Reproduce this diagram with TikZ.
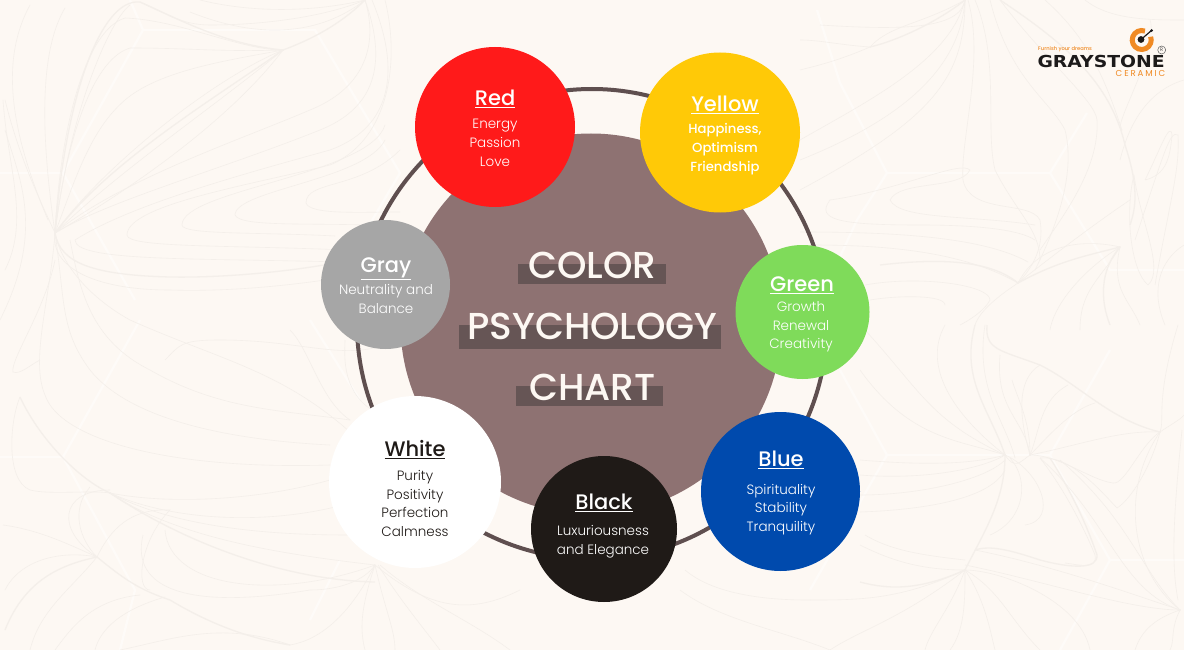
\documentclass[tikz,border=0pt]{standalone}
\usepackage{fontspec}
\setmainfont{Poppins Light}[BoldFont=Poppins Medium]
\newfontfamily\medfont{Poppins Medium}
\newfontfamily\logofont{DejaVu Sans}
\newfontfamily\ceramicfont[LetterSpace=22]{Poppins}
\definecolor{paper}{HTML}{FDF8F3}
\definecolor{vein}{HTML}{F4EFEA}
\definecolor{hexa}{HTML}{FEFBF8}
\definecolor{mauve}{HTML}{8E7272}
\definecolor{barc}{HTML}{665555}
\definecolor{ringc}{HTML}{5F4F4F}
\definecolor{cred}{HTML}{FF1A1A}
\definecolor{cyellow}{HTML}{FFC907}
\definecolor{cgreen}{HTML}{7FDB5A}
\definecolor{cblue}{HTML}{004AAD}
\definecolor{cblack}{HTML}{1F1A17}
\definecolor{cgray}{HTML}{A6A6A6}
\definecolor{logoor}{HTML}{F08A24}
\definecolor{logodk}{HTML}{1C1A1A}
\tikzset{
  vn/.style={draw=vein,line width=0.6pt},
  vt/.style={draw=vein,line width=1.3pt},
  hexline/.style={draw=hexa,line width=2.4pt},
  disc/.style={circle,inner sep=0pt,outer sep=0pt,minimum size=#1},
  ttl/.style={font=\medfont\fontsize{21}{24}\selectfont,text=white,inner sep=0pt},
  body/.style={font=\fontsize{13.5}{18.7}\selectfont,text=white,align=center,inner sep=0pt},
  bodymed/.style={font=\medfont\fontsize{13.2}{18.7}\selectfont,text=white,align=center,inner sep=0pt},
  head/.style={font=\medfont\fontsize{37.5}{40}\selectfont,text=paper,inner sep=0pt,anchor=base},
  bar/.style={fill=barc,draw=none,inner sep=0pt,outer sep=0pt}
}
\newcommand{\ttlu}[1]{\underline{#1}}
\begin{document}
\begin{tikzpicture}[x=1pt,y=-1pt]
\useasboundingbox (0,0) rectangle (1184,650);
\fill[paper] (0,0) rectangle (1184,650);
% hexagon lattice
\draw[hexline] (130,0)--(143,30)--(315,30)--(400,173)--(325,300);
\draw[hexline] (143,30)--(63,173)--(0,173);
\draw[hexline] (63,173)--(135,300);
\draw[hexline] (140,320)--(63,457)--(0,457);
\draw[hexline] (63,457)--(135,590)--(120,650);
\draw[hexline] (310,320)--(360,400);
\draw[hexline] (340,560)--(310,620);
\draw[hexline] (817,10)--(840,83)--(887,173)--(857,220)--(820,300);
\draw[hexline] (887,173)--(1050,173)--(1087,113);
\draw[hexline] (1050,173)--(1110,270)--(1184,270);
\draw[hexline] (840,370)--(887,455)--(1050,455)--(1110,560)--(1184,560);
\draw[hexline] (887,455)--(810,590);
\draw[hexline] (1050,455)--(1110,350);
\draw[hexline] (1110,560)--(1060,650);
% top left veins
\draw[vt] (55,233) .. controls (110,160) and (220,95) .. (283,50) .. controls (310,40) and (340,25) .. (365,0);
\draw[vt] (283,50) .. controls (230,45) and (190,25) .. (140,2) .. controls (100,-2) and (65,100) .. (55,233);
\draw[vn] (55,233) .. controls (120,170) and (210,110) .. (283,50);
\draw[vn] (55,233) .. controls (130,190) and (230,120) .. (283,50);
\draw[vn] (55,233) .. controls (100,170) and (210,80) .. (283,50);
\draw[vn] (55,233) .. controls (70,110) and (110,20) .. (130,5);
\draw[vn] (55,233) .. controls (40,130) and (40,50) .. (65,8);
\draw[vn] (48,220) .. controls (10,130) and (0,60) .. (30,5);
\draw[vn] (55,233) .. controls (60,130) and (85,30) .. (125,18) .. controls (180,20) and (240,50) .. (283,50);
\draw[vn] (283,50) .. controls (220,52) and (190,48) .. (130,48) .. controls (90,60) and (65,150) .. (55,233);
\draw[vn] (283,50) .. controls (230,60) and (160,70) .. (125,100) .. controls (90,130) and (75,180) .. (55,233);
\draw[vn] (365,0) .. controls (330,15) and (270,25) .. (210,25) .. controls (180,25) and (165,12) .. (140,2);
\draw[vn] (365,0) .. controls (320,35) and (260,40) .. (190,12);
\draw[vn] (365,0) .. controls (300,15) and (240,10) .. (200,0);
\draw[vn] (365,0) .. controls (380,50) and (360,90) .. (310,110) .. controls (240,140) and (120,180) .. (55,233);
\draw[vn] (365,0) .. controls (390,70) and (370,110) .. (320,130) .. controls (220,170) and (110,200) .. (55,233);
\draw[vn] (372,0) .. controls (405,80) and (385,130) .. (330,150) .. controls (240,175) and (130,205) .. (75,240) .. controls (75,262) and (200,258) .. (340,262);
\draw[vn] (385,0) .. controls (400,60) and (390,140) .. (330,165) .. controls (250,185) and (127,205) .. (127,235) .. controls (127,248) and (230,245) .. (345,250);
\draw[vn] (385,125) .. controls (370,175) and (182,190) .. (182,225) .. controls (182,235) and (260,232) .. (335,236);
\draw[vn] (385,140) .. controls (365,180) and (235,190) .. (235,215) .. controls (240,228) and (320,222) .. (390,226);
\draw[vn] (400,150) .. controls (360,190) and (306,180) .. (306,203) .. controls (310,215) and (360,212) .. (400,212);
\draw[vt] (55,233) .. controls (60,262) and (90,275) .. (170,277) .. controls (220,278) and (290,272) .. (340,262);
\draw[vn] (55,233) .. controls (50,265) and (90,290) .. (170,290) .. controls (230,292) and (290,285) .. (325,280);
\draw[vn] (5,100) .. controls (20,160) and (40,200) .. (55,233);
\draw[vn] (3,100) .. controls (8,170) and (30,220) .. (5,270);
\draw[vn] (5,130) .. controls (20,180) and (45,230) .. (0,320);
% left lower veins
\draw[vn] (55,233) .. controls (60,260) and (85,295) .. (130,320) .. controls (220,360) and (280,370) .. (350,432);
\draw[vn] (55,233) .. controls (65,300) and (60,330) .. (90,370) .. controls (130,420) and (230,440) .. (330,445);
\draw[vn] (55,233) .. controls (50,300) and (30,360) .. (45,395) .. controls (60,440) and (170,470) .. (330,465);
\draw[vn] (70,240) .. controls (80,290) and (90,340) .. (150,370) .. controls (220,410) and (280,410) .. (350,420);
\draw[vn] (55,260) .. controls (45,310) and (10,360) .. (13,372) .. controls (20,375) and (30,365) .. (40,360);
\draw[vt] (20,397) .. controls (40,440) and (80,480) .. (110,493) .. controls (180,540) and (280,580) .. (375,582);
\draw[vn] (20,397) .. controls (10,420) and (5,480) .. (30,490) .. controls (50,495) and (90,490) .. (110,493);
\draw[vn] (110,493) .. controls (170,505) and (260,500) .. (330,480);
\draw[vn] (110,493) .. controls (170,520) and (260,525) .. (335,507);
\draw[vn] (110,493) .. controls (180,530) and (280,535) .. (350,535);
\draw[vn] (110,493) .. controls (180,540) and (290,555) .. (375,565);
\draw[vn] (110,490) .. controls (60,490) and (55,530) .. (97,557);
\draw[vn] (90,487) .. controls (70,510) and (80,540) .. (97,557);
\draw[vt] (97,557) .. controls (125,580) and (140,590) .. (170,600) .. controls (220,630) and (260,640) .. (290,645);
\draw[vn] (97,557) .. controls (60,550) and (20,560) .. (5,590);
\draw[vt] (97,557) .. controls (60,565) and (25,580) .. (5,630);
\draw[vn] (97,557) .. controls (70,590) and (40,610) .. (30,650);
\draw[vn] (3,525) .. controls (40,530) and (70,545) .. (97,557);
\draw[vn] (140,595) .. controls (90,600) and (70,630) .. (55,650);
\draw[vn] (165,597) .. controls (120,610) and (100,630) .. (95,650);
\draw[vn] (97,557) .. controls (110,530) and (130,508) .. (170,510) .. controls (140,540) and (135,590) .. (150,590);
\draw[vn] (143,535) .. controls (130,590) and (190,610) .. (310,590) .. controls (340,590) and (365,580) .. (375,565);
\draw[vn] (165,530) .. controls (170,590) and (280,600) .. (375,565);
\draw[vn] (290,645) .. controls (320,640) and (350,615) .. (375,565);
\draw[vn] (290,645) .. controls (220,620) and (170,640) .. (120,650);
\draw[vn] (385,345) .. controls (340,360) and (300,340) .. (220,340) .. controls (180,340) and (180,345) .. (165,360);
\draw[vn] (350,420) .. controls (320,400) and (310,350) .. (290,330);
\draw[vn] (372,410) .. controls (340,390) and (345,350) .. (345,340);
\draw[vn] (375,565) .. controls (385,610) and (395,630) .. (395,650);
\draw[vn] (378,565) .. controls (400,600) and (425,630) .. (440,650);
\draw[vn] (375,565) .. controls (360,610) and (360,630) .. (365,650);
\draw[vn] (380,565) .. controls (420,600) and (470,620) .. (510,650);
% right top veins
\draw[vn] (965,0) .. controls (950,60) and (870,100) .. (800,140);
\draw[vn] (965,0) .. controls (960,70) and (900,120) .. (800,160);
\draw[vn] (965,0) .. controls (965,80) and (930,120) .. (800,190);
\draw[vn] (965,0) .. controls (960,30) and (900,30) .. (820,25);
\draw[vn] (965,0) .. controls (920,25) and (890,25) .. (870,47);
\draw[vt] (870,47) .. controls (900,40) and (940,20) .. (965,0);
\draw[vn] (870,47) .. controls (840,45) and (820,40) .. (800,40);
\draw[vn] (870,47) .. controls (840,60) and (820,65) .. (800,70);
\draw[vn] (968,0) .. controls (985,60) and (960,140) .. (963,180) .. controls (970,215) and (1030,200) .. (1040,220) .. controls (1045,250) and (1030,270) .. (1018,283);
\draw[vn] (975,0) .. controls (1000,60) and (985,130) .. (995,170) .. controls (1015,210) and (1040,230) .. (1040,260);
\draw[vn] (990,0) .. controls (1010,80) and (1050,100) .. (1065,130) .. controls (1075,170) and (1060,220) .. (1035,270);
\draw[vn] (1000,0) .. controls (1045,60) and (1095,100) .. (1097,120) .. controls (1100,170) and (1060,220) .. (1040,250);
\draw[vt] (1000,0) .. controls (1060,40) and (1110,80) .. (1125,145) .. controls (1140,190) and (1135,210) .. (1130,225);
\draw[vn] (1045,0) .. controls (1090,40) and (1105,80) .. (1122,130);
\draw[vn] (1085,0) .. controls (1110,20) and (1150,20) .. (1184,20);
\draw[vn] (1150,20) .. controls (1160,50) and (1110,130) .. (1122,130);
\draw[vn] (1120,160) .. controls (1130,120) and (1150,90) .. (1184,80);
\draw[vn] (1135,240) .. controls (1165,150) and (1170,130) .. (1178,135) .. controls (1180,170) and (1170,200) .. (1155,285);
\draw[vn] (1145,180) .. controls (1160,150) and (1170,120) .. (1172,135) .. controls (1170,160) and (1165,175) .. (1145,180);
\draw[vn] (1134,175) .. controls (1140,220) and (1165,270) .. (1148,285) .. controls (1130,270) and (1125,210) .. (1134,175);
\draw[vn] (830,200) .. controls (900,190) and (960,160) .. (970,170) .. controls (960,190) and (900,180) .. (890,200) .. controls (900,220) and (970,215) .. (1035,225);
\draw[vn] (830,200) .. controls (815,220) and (840,225) .. (920,225) .. controls (980,225) and (1020,230) .. (1035,240);
\draw[vn] (800,232) .. controls (880,232) and (980,235) .. (1028,262);
\draw[vn] (810,245) .. controls (880,245) and (960,250) .. (1018,283);
\draw[vt] (880,265) .. controls (940,258) and (990,260) .. (1018,283);
\draw[vn] (865,285) .. controls (920,275) and (990,285) .. (990,300) .. controls (985,310) and (970,320) .. (960,325);
\draw[vn] (870,300) .. controls (900,295) and (945,295) .. (945,305);
\draw[vn] (1018,283) .. controls (1040,240) and (1090,240) .. (1120,247);
\draw[vn] (1018,283) .. controls (1060,250) and (1100,220) .. (1130,200);
\draw[vt] (1018,283) .. controls (1060,260) and (1090,255) .. (1120,247);
\draw[vn] (1018,283) .. controls (1000,295) and (980,310) .. (975,325);
\draw[vn] (1120,247) .. controls (1090,265) and (1055,300) .. (1050,330);
\draw[vn] (1120,247) .. controls (1100,280) and (1080,290) .. (1080,330);
\draw[vt] (1120,247) .. controls (1100,270) and (1100,300) .. (1110,325);
\draw[vn] (1120,247) .. controls (1110,290) and (1130,300) .. (1140,325);
\draw[vn] (1184,245) .. controls (1160,260) and (1150,290) .. (1165,325);
% right lower veins
\draw[vn] (860,370) .. controls (910,440) and (960,440) .. (1005,455);
\draw[vn] (865,330) .. controls (920,390) and (930,420) .. (1005,455);
\draw[vn] (945,325) .. controls (920,370) and (960,420) .. (1005,455);
\draw[vt] (975,325) .. controls (960,380) and (990,410) .. (1005,455);
\draw[vn] (985,325) .. controls (975,390) and (1005,420) .. (1015,458);
\draw[vt] (987,325) .. controls (985,350) and (1000,350) .. (1040,365) .. controls (1080,385) and (1110,420) .. (1160,432);
\draw[vn] (1000,355) .. controls (995,410) and (1025,420) .. (1030,455);
\draw[vn] (1040,365) .. controls (1015,380) and (1020,420) .. (1030,455);
\draw[vn] (1068,385) .. controls (1040,400) and (1040,430) .. (1030,455);
\draw[vn] (1095,403) .. controls (1070,410) and (1045,440) .. (1030,455);
\draw[vn] (1160,432) .. controls (1120,430) and (1080,445) .. (1030,455);
\draw[vn] (1160,432) .. controls (1140,445) and (1125,485) .. (1113,483) .. controls (1090,480) and (1060,455) .. (1030,455);
\draw[vn] (1160,432) .. controls (1150,470) and (1130,500) .. (1117,508) .. controls (1100,490) and (1070,455) .. (1040,458);
\draw[vn] (1005,455) .. controls (1015,470) and (1020,462) .. (1030,455);
\draw[vn] (1005,455) .. controls (1040,470) and (1060,520) .. (1025,525);
\draw[vn] (1010,458) .. controls (1030,480) and (1025,520) .. (990,535);
\draw[vt] (1005,455) .. controls (1005,500) and (985,530) .. (965,570);
\draw[vn] (1040,458) .. controls (1065,490) and (1085,530) .. (1095,555) .. controls (1098,570) and (1080,565) .. (1065,563);
\draw[vt] (1050,458) .. controls (1070,490) and (1085,520) .. (1097,555) .. controls (1098,570) and (1070,568) .. (1040,560) .. controls (1010,550) and (990,545) .. (975,550);
\draw[vn] (1040,458) .. controls (1110,520) and (1120,590) .. (1180,610);
\draw[vn] (1060,460) .. controls (1130,520) and (1140,570) .. (1180,610);
\draw[vn] (975,550) .. controls (1050,565) and (1120,590) .. (1180,610);
\draw[vn] (965,565) .. controls (1040,580) and (1130,610) .. (1180,610);
\draw[vn] (965,570) .. controls (1000,570) and (1080,600) .. (1090,650);
\draw[vn] (965,570) .. controls (1000,590) and (1010,620) .. (1040,650);
\draw[vn] (965,570) .. controls (985,600) and (990,630) .. (995,650);
\draw[vn] (965,570) .. controls (965,600) and (965,630) .. (950,650);
\draw[vn] (965,570) .. controls (950,610) and (930,630) .. (925,650);
\draw[vt] (965,570) .. controls (920,590) and (890,590) .. (860,582);
\draw[vn] (965,570) .. controls (920,570) and (890,560) .. (860,545);
\draw[vn] (965,560) .. controls (920,555) and (890,550) .. (865,535);
\draw[vn] (965,570) .. controls (900,600) and (860,600) .. (810,600);
\draw[vn] (965,570) .. controls (900,620) and (860,630) .. (830,650);
\draw[vn] (860,460) .. controls (920,465) and (970,465) .. (1005,455);
\draw[vn] (860,475) .. controls (920,480) and (980,470) .. (1005,455);
\draw[vn] (860,495) .. controls (920,495) and (985,480) .. (1005,460);
\draw[vn] (860,512) .. controls (920,510) and (990,500) .. (1005,470);
\draw[vn] (1030,455) .. controls (1030,420) and (1018,400) .. (1012,380);
\draw[vn] (1180,610) .. controls (1150,620) and (1140,635) .. (1135,650);
\draw[vn] (1180,610) .. controls (1170,630) and (1175,640) .. (1170,650);
\draw[vn] (1160,432) .. controls (1120,490) and (1130,570) .. (1180,610);
\draw[vn] (1178,325) .. controls (1155,400) and (1165,420) .. (1160,432);
\draw[vn] (1182,430) .. controls (1175,500) and (1170,560) .. (1178,600);
\draw[vn] (1160,432) .. controls (1170,425) and (1180,420) .. (1184,415);
% bottom centre veins
\draw[vn] (375,565) .. controls (430,610) and (470,615) .. (520,590);
\draw[vn] (685,570) .. controls (720,600) and (790,600) .. (810,600);
\draw[vn] (680,590) .. controls (720,620) and (780,630) .. (830,650);
% chart
\node[disc=470pt,draw=ringc,line width=4pt] (ring) at (592,324) {};
\node[disc=381pt,fill=mauve] (hub) at (591,324) {};
\node[disc=160pt,fill=cred] (red) at (495,127) {};
\node[disc=160pt,fill=cyellow] (yellow) at (720,132.5) {};
\node[disc=134pt,fill=cgreen] (green) at (802.5,312) {};
\node[disc=159pt,fill=cblue] (blue) at (780.5,491.5) {};
\node[disc=146pt,fill=cblack] (black) at (604,529) {};
\node[disc=172pt,fill=white] (white) at (415,482) {};
\node[disc=129pt,fill=cgray] (gray) at (385.5,284.5) {};
% heading
\node[bar,minimum width=147.5pt,minimum height=20.5pt] (bar1) at (592,274) {};
\node[bar,minimum width=262pt,minimum height=24pt] (bar2) at (590,337) {};
\node[bar,minimum width=147pt,minimum height=20pt] (bar3) at (589.5,396) {};
\node[head] (h1) at (592.5,278) {COLOR};
\node[head] (h2) at (592.5,339) {PSYCHOLOGY};
\node[head] (h3) at (592.5,400.5) {CHART};
% labels
\node[ttl] (t1) at (495,99) {\ttlu{Red}};
\node[body] (b1) at (495,143) {Energy\\Passion\\Love};
\node[ttl] (t2) at (725,105) {\ttlu{Yellow}};
\node[bodymed] (b2) at (725,149) {Happiness,\\Optimism\\Friendship};
\node[ttl] (t3) at (802,285) {\ttlu{Green}};
\node[body] (b3) at (801,327) {Growth\\Renewal\\Creativity};
\node[ttl] (t4) at (781,460) {\ttlu{Blue}};
\node[body] (b4) at (781,509.5) {Spirituality\\Stability\\Tranquility};
\node[ttl] (t5) at (604,503) {\ttlu{Black}};
\node[body] (b5) at (603,542) {Luxuriousness\\and Elegance};
\node[ttl,text=cblack] (t6) at (415,450) {\ttlu{White}};
\node[body,text=cblack] (b6) at (415,503.5) {Purity\\Positivity\\Perfection\\Calmness};
\node[ttl] (t7) at (386,269) {\ttlu{Gray}};
\node[body] (b7) at (386,299) {Neutrality and\\Balance};
% logo
\draw[logoor,line width=5pt] (1144.95,31.07) arc[start angle=70,end angle=380,radius=9.5pt];
\draw[logodk,line width=1.2pt] (1141,39.5) -- (1151.5,30.5);
\fill[logodk] (1141,39.5) circle[radius=3.4pt];
\fill[logodk] (1151.5,30.5) circle[radius=1.5pt];
\node[circle,draw=logodk!70,line width=0.5pt,inner sep=0pt,minimum size=8pt,font=\fontsize{5}{5}\selectfont,text=logodk] (reg) at (1161.7,50) {R};
\node[font=\logofont\bfseries\fontsize{16.5}{17}\selectfont,text=logodk,inner sep=0pt,anchor=base east,xscale=1.14] (gs) at (1165,67.5) {GRAYSTONE};
\node[font=\medfont\fontsize{5.2}{6}\selectfont,text=logoor,inner sep=0pt,anchor=base west] (fd) at (1038,51) {Furnish your dreams};
\node[font=\ceramicfont\fontsize{8.6}{9}\selectfont,text=logoor,inner sep=0pt,anchor=base east] (cr) at (1165.5,77) {CERAMIC};
\end{tikzpicture}
\end{document}
